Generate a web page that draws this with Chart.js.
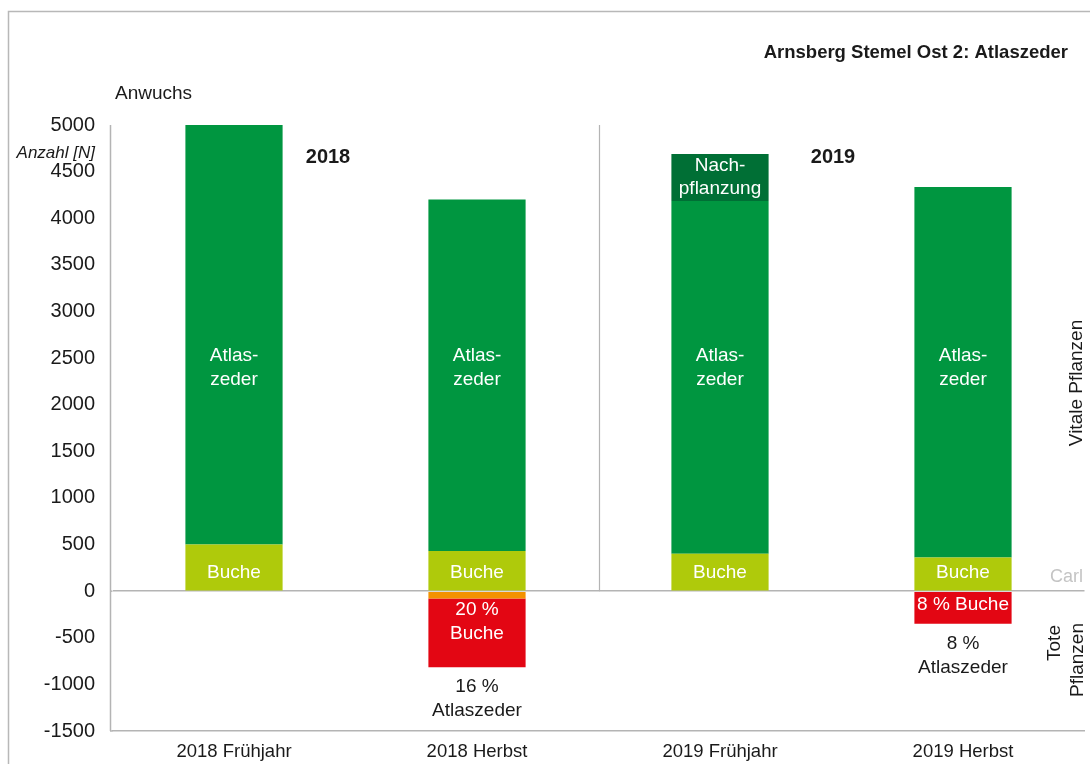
<!DOCTYPE html>
<html><head><meta charset="utf-8">
<script src="https://cdn.jsdelivr.net/npm/chart.js@4/dist/chart.umd.min.js"></script>
<style>html,body{margin:0;padding:0;background:#fff}#wrap{width:1090px;height:764px;position:relative}</style>
</head><body><div id="wrap"><canvas id="c" width="1090" height="764"></canvas></div>
<script>
// ---- data ----
const categories = ['2018 Frühjahr', '2018 Herbst', '2019 Frühjahr', '2019 Herbst'];
const buche = [500, 430, 400, 360];
const atlaszeder = [4500, 3770, 3785, 3975];
const nachpflanzung = [0, 0, 505, 0];
const toteOrange = [0, -80, 0, 0];
const toteRot = [0, -735, 0, -350];
const yMin = -1500, yMax = 5000, yStep = 500;

const atlasLabel = ['Atlas-', 'zeder'];
const bucheLabel = 'Buche';
const nachLabel = ['Nach-', 'pflanzung'];
const rotLabels = [null, ['20 %', 'Buche'], null, ['8 % Buche']];
const belowLabels = [null, ['16 %', 'Atlaszeder'], null, ['8 %', 'Atlaszeder']];

const FONT = '"Liberation Sans", Arial, sans-serif';
const GREEN = '#009640', LIME = '#afca0b', DARK = '#006f35', RED = '#e30613', ORANGE = '#f39200';
const AXIS = '#b4b4b4';

const overlay = {
  id: 'overlay',
  beforeDraw(chart) {
    const c = chart.ctx;
    c.save();
    c.strokeStyle = '#b8b8b8'; c.lineWidth = 1.5;
    c.beginPath(); c.moveTo(8.5, 764); c.lineTo(8.5, 11.5); c.lineTo(1090, 11.5); c.stroke();
    c.restore();
  },
  afterDatasetsDraw(chart) {
    const c = chart.ctx, x = chart.scales.x, y = chart.scales.y;
    c.save();
    // left axis line
    c.strokeStyle = AXIS; c.lineWidth = 1.5;
    c.beginPath(); c.moveTo(110.5, y.getPixelForValue(yMax)); c.lineTo(110.5, y.getPixelForValue(yMin)); c.stroke();
    c.beginPath(); c.moveTo(110, y.getPixelForValue(0)); c.lineTo(x.left, y.getPixelForValue(0)); c.stroke();
    c.beginPath(); c.moveTo(110, y.getPixelForValue(yMin)); c.lineTo(x.left, y.getPixelForValue(yMin)); c.stroke();
    // separator between years
    const sx = Math.round(x.getPixelForValue(1.5)) + 0.5;
    c.lineWidth = 1.2;
    c.beginPath(); c.moveTo(sx, y.getPixelForValue(yMax)); c.lineTo(sx, y.getPixelForValue(0)); c.stroke();

    c.textAlign = 'center'; c.textBaseline = 'middle';
    const metaA = chart.getDatasetMeta(1), metaN = chart.getDatasetMeta(2), metaR = chart.getDatasetMeta(4);
    c.fillStyle = '#fff';
    c.font = '19px ' + FONT;
    categories.forEach((cat, i) => {
      const cx = metaA.data[i].x;
      const ay = y.getPixelForValue(2400);
      c.fillText(atlasLabel[0], cx, ay - 12);
      c.fillText(atlasLabel[1], cx, ay + 12);
      c.fillText(bucheLabel, cx, y.getPixelForValue(200));
      if (nachpflanzung[i] > 0) {
        const el = metaN.data[i];
        const my = (el.y + el.base) / 2;
        c.fillText(nachLabel[0], cx, my - 12);
        c.fillText(nachLabel[1], cx, my + 11);
      }
      if (rotLabels[i]) {
        const el = metaR.data[i];
        const lines = rotLabels[i];
        const top = y.getPixelForValue(0);
        const startY = lines.length === 1 ? (el.y + el.base) / 2 - 3 : top + 19;
        lines.forEach((t, k) => c.fillText(t, cx, startY + k * 24));
      }
    });
    c.fillStyle = '#1a1a1a';
    categories.forEach((cat, i) => {
      if (belowLabels[i]) {
        const el = metaR.data[i];
        const bottom = Math.max(el.y, el.base);
        belowLabels[i].forEach((t, k) => c.fillText(t, metaA.data[i].x, bottom + 20 + k * 24));
      }
    });
    // texts
    c.fillStyle = '#1a1a1a';
    c.font = 'bold 18.5px ' + FONT;
    c.textAlign = 'right';
    c.fillText('Arnsberg Stemel Ost 2: Atlaszeder', 1068, 53);
    c.textAlign = 'center';
    c.font = 'bold 20px ' + FONT;
    c.fillText('2018', 328, 157);
    c.fillText('2019', 833, 157);
    c.font = '19px ' + FONT;
    c.textAlign = 'left';
    c.fillText('Anwuchs', 115, 94);
    c.textAlign = 'right';
    c.font = 'italic 17px ' + FONT;
    c.fillText('Anzahl [N]', 95, 153);
    c.font = '18px ' + FONT;
    c.fillStyle = '#c4c4c4';
    c.textAlign = 'left';
    c.fillText('Carl', 1050, 577);
    // rotated side labels
    c.fillStyle = '#1a1a1a';
    c.font = '19px ' + FONT;
    c.textAlign = 'center';
    c.save(); c.translate(1077, 383); c.rotate(-Math.PI / 2); c.fillText('Vitale Pflanzen', 0, 0); c.restore();
    c.save(); c.translate(1055, 643); c.rotate(-Math.PI / 2); c.fillText('Tote', 0, 0); c.restore();
    c.save(); c.translate(1078, 660); c.rotate(-Math.PI / 2); c.fillText('Pflanzen', 0, 0); c.restore();
    c.restore();
  }
};

new Chart(document.getElementById('c'), {
  type: 'bar',
  data: {
    labels: categories,
    datasets: [
      { label: 'Buche', data: buche, backgroundColor: LIME },
      { label: 'Atlaszeder', data: atlaszeder, backgroundColor: GREEN },
      { label: 'Nachpflanzung', data: nachpflanzung, backgroundColor: DARK },
      { label: 'Tot Orange', data: toteOrange, backgroundColor: ORANGE },
      { label: 'Tot Rot', data: toteRot, backgroundColor: RED }
    ]
  },
  options: {
    responsive: false,
    animation: false,
    devicePixelRatio: 1,
    layout: { padding: { top: 125, right: 5.5, left: 0, bottom: 0 } },
    datasets: { bar: { categoryPercentage: 1, barPercentage: 0.4, borderWidth: 0 } },
    plugins: { legend: { display: false }, tooltip: { enabled: false } },
    scales: {
      x: {
        stacked: true,
        grid: { display: false, drawTicks: false },
        border: { display: true, color: AXIS, width: 1.5 },
        ticks: { color: '#1a1a1a', font: { family: FONT, size: 18.5 }, padding: 10, maxRotation: 0 },
        afterFit(s) { s.height = 33; }
      },
      y: {
        stacked: true,
        min: yMin, max: yMax,
        ticks: { stepSize: yStep, color: '#1a1a1a', font: { family: FONT, size: 20 }, padding: 17.5, callback: v => String(v) },
        grid: { drawTicks: false, color: ctx => (ctx.tick && ctx.tick.value === 0) ? AXIS : 'rgba(0,0,0,0)', lineWidth: 1.5 },
        border: { display: false },
        afterFit(s) { s.width = 112.5; }
      }
    }
  },
  plugins: [overlay]
});
</script>
</body></html>
